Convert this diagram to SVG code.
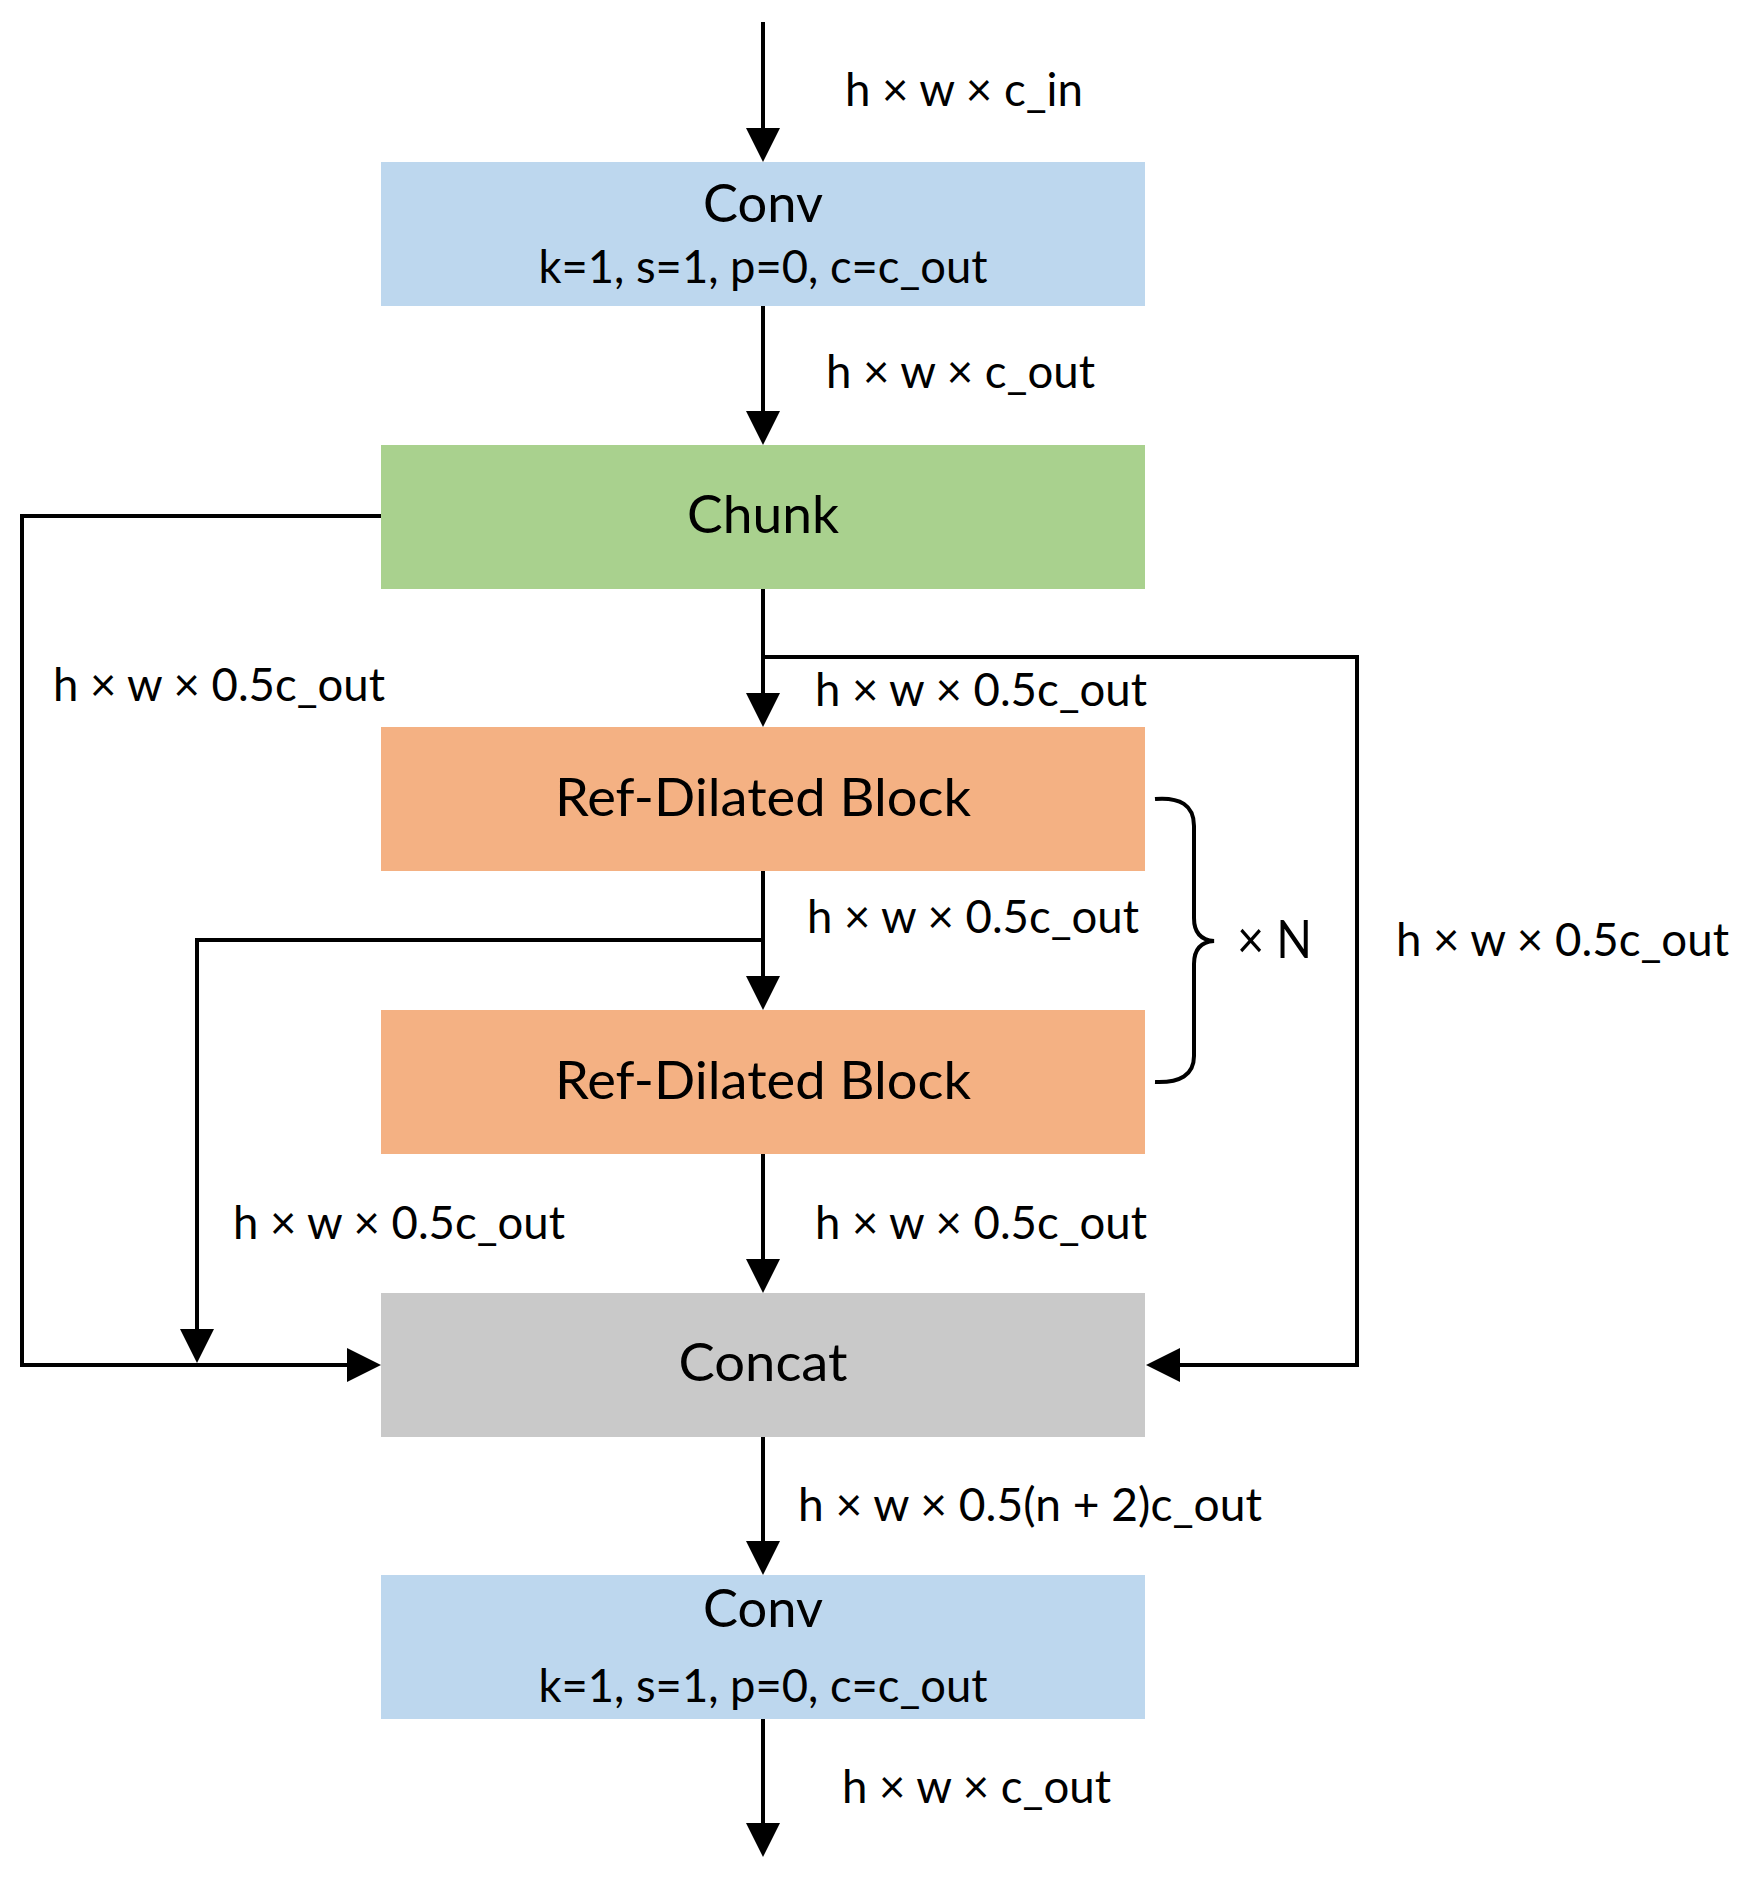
<svg xmlns="http://www.w3.org/2000/svg" width="1746" height="1877" viewBox="0 0 1746 1877">
  <style>
    .box-text { font-family: Lato, "Open Sans", "Liberation Sans", sans-serif; font-size: 52px; fill: #000; text-anchor: middle; }
    .param { font-family: Lato, "Open Sans", "Liberation Sans", sans-serif; font-size: 46px; fill: #000; text-anchor: middle; }
    .label { font-family: Lato, "Open Sans", "Liberation Sans", sans-serif; font-size: 46px; fill: #000; }
    .conn { fill: none; stroke: #000; stroke-width: 4; stroke-linejoin: miter; }
    .arrow { marker-end: url(#arrowhead); }
    .conv { fill: #BDD7EE; }
    .chunk { fill: #A9D18E; }
    .rdb { fill: #F4B183; }
    .concat { fill: #C9C9C9; }
  </style>
  <defs>
    <marker id="arrowhead" markerUnits="userSpaceOnUse" markerWidth="36" markerHeight="36" refX="0" refY="17" orient="auto" overflow="visible">
      <path d="M0,0 L34,17 L0,34 Z" fill="#000"/>
    </marker>
  </defs>
  <rect width="1746" height="1877" fill="#fff"/>

  <g id="connectors">
    <path class="conn arrow" d="M763,22 V128"/>
    <path class="conn arrow" d="M763,306 V411"/>
    <path class="conn arrow" d="M763,589 V693"/>
    <path class="conn arrow" d="M763,657 H1357 V1365 H1180"/>
    <path class="conn arrow" d="M381,516 H22 V1365 H347"/>
    <path class="conn arrow" d="M763,871 V976"/>
    <path class="conn arrow" d="M763,940 H197 V1329"/>
    <path class="conn arrow" d="M763,1154 V1259"/>
    <path class="conn arrow" d="M763,1437 V1541"/>
    <path class="conn arrow" d="M763,1719 V1823"/>
  </g>

  <g id="labels">
    <text class="label" x="845" y="106" textLength="238" lengthAdjust="spacingAndGlyphs">h × w × c_in</text>
    <text class="label" x="826" y="388" textLength="269" lengthAdjust="spacingAndGlyphs">h × w × c_out</text>
    <text class="label" x="53" y="701" textLength="332" lengthAdjust="spacingAndGlyphs">h × w × 0.5c_out</text>
    <text class="label" x="815" y="706" textLength="332" lengthAdjust="spacingAndGlyphs">h × w × 0.5c_out</text>
    <text class="label" x="807" y="933" textLength="332" lengthAdjust="spacingAndGlyphs">h × w × 0.5c_out</text>
    <text class="label" x="1396" y="956" textLength="333" lengthAdjust="spacingAndGlyphs">h × w × 0.5c_out</text>
    <text class="label" x="233" y="1239" textLength="332" lengthAdjust="spacingAndGlyphs">h × w × 0.5c_out</text>
    <text class="label" x="815" y="1239" textLength="332" lengthAdjust="spacingAndGlyphs">h × w × 0.5c_out</text>
    <text class="label" x="798" y="1521" textLength="464" lengthAdjust="spacingAndGlyphs">h × w × 0.5(n + 2)c_out</text>
    <text class="label" x="842" y="1803" textLength="269" lengthAdjust="spacingAndGlyphs">h × w × c_out</text>
  </g>

  <g id="conv1">
    <rect class="conv" x="381" y="162" width="764" height="144"/>
    <text class="box-text" x="763" y="222" textLength="120" lengthAdjust="spacingAndGlyphs">Conv</text>
    <text class="param" x="763" y="283" textLength="449" lengthAdjust="spacingAndGlyphs">k=1, s=1, p=0, c=c_out</text>
  </g>

  <g id="chunk">
    <rect class="chunk" x="381" y="445" width="764" height="144"/>
    <text class="box-text" x="763" y="533" textLength="152" lengthAdjust="spacingAndGlyphs">Chunk</text>
  </g>

  <g id="rdb1">
    <rect class="rdb" x="381" y="727" width="764" height="144"/>
    <text class="box-text" x="763" y="816" textLength="416" lengthAdjust="spacingAndGlyphs">Ref-Dilated Block</text>
  </g>

  <g id="rdb2">
    <rect class="rdb" x="381" y="1010" width="764" height="144"/>
    <text class="box-text" x="763" y="1099" textLength="416" lengthAdjust="spacingAndGlyphs">Ref-Dilated Block</text>
  </g>

  <g id="repeat">
    <path class="conn" d="M1155,799 C1180,797 1194,805 1194,826 V918 C1194,932 1200,940 1214,941 C1200,942 1194,950 1194,964 V1056 C1194,1075 1180,1083 1155,1082"/>
    <text class="box-text" x="1237" y="958" style="text-anchor:start" textLength="75" lengthAdjust="spacingAndGlyphs">× N</text>
  </g>

  <g id="concat">
    <rect class="concat" x="381" y="1293" width="764" height="144"/>
    <text class="box-text" x="763" y="1381" textLength="169" lengthAdjust="spacingAndGlyphs">Concat</text>
  </g>

  <g id="conv2">
    <rect class="conv" x="381" y="1575" width="764" height="144"/>
    <text class="box-text" x="763" y="1627" textLength="120" lengthAdjust="spacingAndGlyphs">Conv</text>
    <text class="param" x="763" y="1702" textLength="449" lengthAdjust="spacingAndGlyphs">k=1, s=1, p=0, c=c_out</text>
  </g>
</svg>
